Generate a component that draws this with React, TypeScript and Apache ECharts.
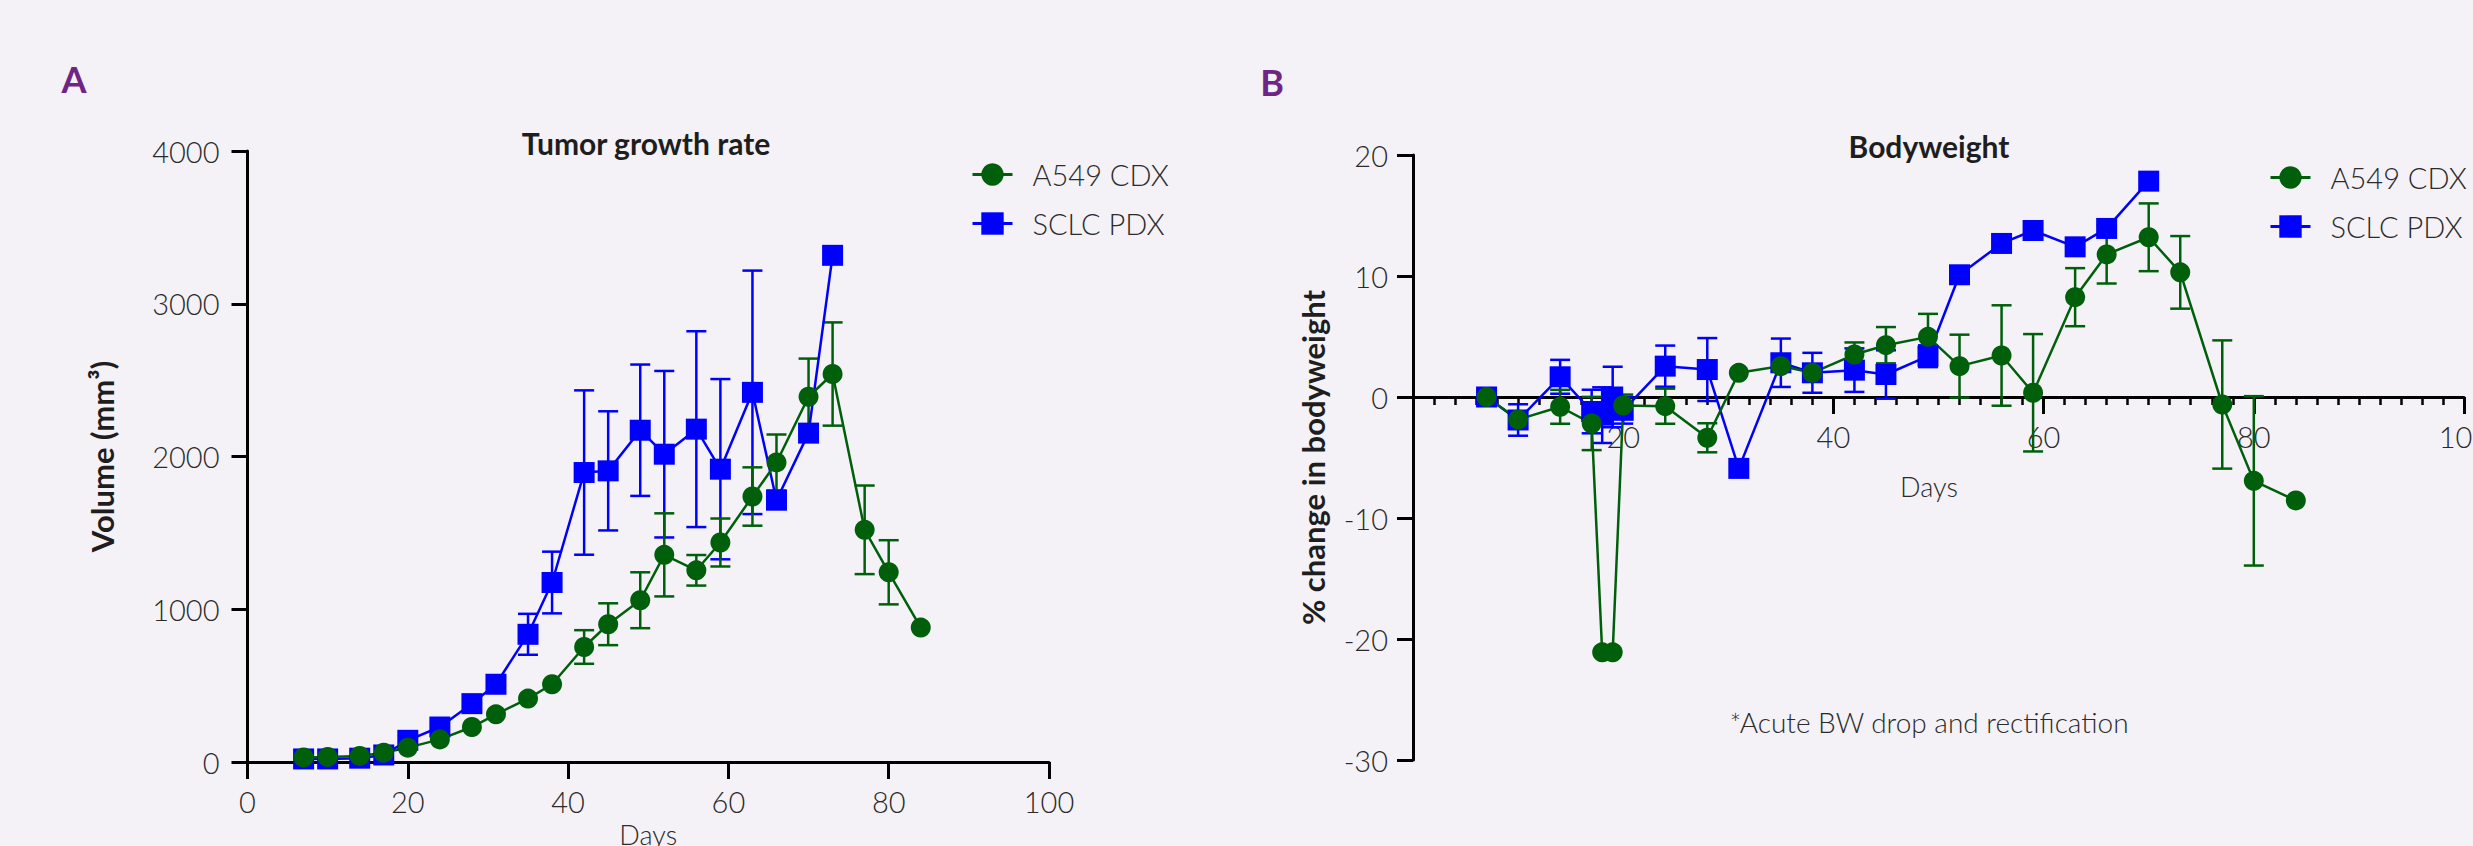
import React, { useEffect, useRef } from "react";
import * as echarts from "echarts";

// ---------- Data ----------
const seriesNames = ["A549 CDX", "SCLC PDX"];

// Panel A: tumour volume (mm³)
const tumorDaysA549 = [7, 10, 14, 17, 20, 24, 28, 31, 35, 38, 42, 45, 49, 52, 56, 59, 63, 66, 70, 73, 77, 80, 84];
const tumorA549 = [30, 33, 40, 61, 94, 148, 229, 312, 415, 509, 753, 902, 1059, 1356, 1255, 1437, 1738, 1961, 2391, 2540, 1520, 1242, 880];
const tumorA549Err = [0, 0, 0, 0, 0, 0, 0, 0, 0, 0, 110, 137, 183, 272, 100, 157, 191, 183, 250, 338, 290, 210, 0];

const tumorDaysSCLC = [7, 10, 14, 17, 20, 24, 28, 31, 35, 38, 42, 45, 49, 52, 56, 59, 63, 66, 70, 73];
const tumorSCLC = [20, 20, 25, 46, 142, 229, 382, 509, 836, 1175, 1895, 1906, 2172, 2015, 2179, 1917, 2420, 1714, 2153, 3317];
const tumorSCLCErr = [0, 0, 0, 0, 0, 0, 0, 0, 134, 202, 538, 390, 430, 545, 641, 590, 797, 0, 0, 0];

// Panel B: % change in bodyweight
const bwDaysA549 = [7, 10, 14, 17, 18, 19, 20, 24, 28, 31, 35, 38, 42, 45, 49, 52, 56, 59, 63, 66, 70, 73, 77, 80, 84];
const bwA549 = [0, -1.86, -0.81, -2.19, -21.1, -21.1, -0.7, -0.76, -3.37, 2.0, 2.55, 2.0, 3.51, 4.28, 4.97, 2.55, 3.43, 0.35, 8.25, 11.78, 13.2, 10.3, -0.62, -6.93, -8.55];
const bwA549Err = [0, 0, 1.4, 2.2, 0, 0, 0.9, 1.45, 1.2, 0, 0, 0, 1.0, 1.5, 1.9, 2.6, 4.15, 4.85, 2.4, 2.4, 2.8, 3.0, 5.3, 7.0, 0];

const bwDaysSCLC = [7, 10, 14, 17, 18, 19, 20, 24, 28, 31, 35, 38, 42, 45, 49, 52, 56, 59, 63, 66, 70];
const bwSCLC = [0, -1.9, 1.67, -1.2, -1.5, 0, -1.1, 2.55, 2.27, -5.9, 2.83, 2.0, 2.22, 1.86, 3.37, 10.1, 12.69, 13.76, 12.41, 13.93, 17.84];
const bwSCLCErr = [0, 1.3, 1.4, 1.8, 2.3, 2.5, 1.1, 1.7, 2.6, 0, 2.0, 1.65, 1.8, 2.0, 0.9, 0, 0, 0, 0, 0, 0];

// Axis ranges / ticks
const xMin = 0, xMax = 100, xInterval = 20;
const volMin = 0, volMax = 4000, volInterval = 1000;
const bwMin = -30, bwMax = 20, bwInterval = 10;

// ---------- Styles ----------
const GREEN = "#005f0b";
const BLUE = "#0000ff";
const BG = "#f4f2f7";
const PURPLE = "#6e2585";
const TEXT = "#2b2b2b";
const FONT = "Lato";

const gridA = { left: 247.5, top: 151, width: 801.5, height: 611, outerBoundsMode: "none" };
const gridB = { left: 1413, top: 155, width: 1051, height: 605, outerBoundsMode: "none" };
// x axis of panel B sits on the y = 0 line
const bZeroOffset = -((0 - bwMin) / (bwMax - bwMin)) * gridB.height;

const pairs = (xs: number[], ys: number[]) => xs.map((x, i) => [x, ys[i]]);
const errData = (xs: number[], ys: number[], es: number[]) =>
  xs.map((x, i) => [x, ys[i] - es[i], ys[i] + es[i], es[i]]).filter((d) => d[3] > 0);

const errSeries = (name: string, idx: number, data: number[][], color: string) => ({
  type: "custom",
  name,
  xAxisIndex: idx,
  yAxisIndex: idx,
  z: 1,
  silent: true,
  encode: { x: 0, y: [1, 2] },
  data,
  renderItem: (params: any, api: any) => {
    const x = api.value(0);
    const top = api.coord([x, api.value(2)]);
    const bot = api.coord([x, api.value(1)]);
    const w = 10;
    const st = { stroke: color, lineWidth: 2.5 };
    return {
      type: "group",
      children: [
        { type: "line", shape: { x1: top[0], y1: top[1], x2: bot[0], y2: bot[1] }, style: st },
        { type: "line", shape: { x1: top[0] - w, y1: top[1], x2: top[0] + w, y2: top[1] }, style: st },
        { type: "line", shape: { x1: bot[0] - w, y1: bot[1], x2: bot[0] + w, y2: bot[1] }, style: st },
      ],
    };
  },
});

const lineSeries = (name: string, idx: number, data: number[][], color: string, symbol: string, size: number) => ({
  type: "line",
  name,
  xAxisIndex: idx,
  yAxisIndex: idx,
  z: 3,
  data,
  symbol,
  symbolSize: size,
  showAllSymbol: true,
  itemStyle: { color, opacity: 1 },
  lineStyle: { color, width: 2.5 },
});

const axisText = { color: TEXT, fontFamily: FONT, fontSize: 29, fontWeight: 300 as any };
const nameText = { color: "#1e1e1e", fontFamily: FONT, fontSize: 31, fontWeight: "bold" as any };
const plain = (v: number) => String(v);

export default function App() {
  const ref = useRef<HTMLDivElement>(null);

  useEffect(() => {
    if (!ref.current) return;
    const chart = echarts.init(ref.current, undefined, { renderer: "svg" });

    const legendCommon = {
      orient: "vertical",
      data: seriesNames,
      itemWidth: 40,
      itemHeight: 28,
      itemGap: 20,
      lineStyle: { width: 3 },
      textStyle: { color: TEXT, fontFamily: FONT, fontSize: 29, fontWeight: 300 as any, padding: [0, 0, 0, 15] },
      selectedMode: false,
    };

    chart.setOption({
      animation: false,
      backgroundColor: BG,
      grid: [gridA, gridB],
      legend: [
        { ...legendCommon, left: 966, top: 155 },
        { ...legendCommon, left: 2264, top: 158 },
      ],
      xAxis: [
        {
          type: "value",
          gridIndex: 0,
          min: xMin,
          max: xMax,
          interval: xInterval,
          name: "Days",
          nameLocation: "middle",
          nameGap: 57,
          nameTextStyle: { ...axisText, fontSize: 27 },
          axisLine: { show: true, lineStyle: { color: "#000", width: 3 } },
          axisTick: { show: true, length: 17, lineStyle: { color: "#000", width: 3 } },
          axisLabel: { ...axisText, margin: 25, formatter: plain },
          splitLine: { show: false },
        },
        {
          type: "value",
          gridIndex: 1,
          min: xMin,
          max: xMax,
          interval: xInterval,
          position: "bottom",
          offset: bZeroOffset,
          axisLine: { show: true, onZero: false, lineStyle: { color: "#000", width: 3 } },
          axisTick: { show: true, length: 17, lineStyle: { color: "#000", width: 3 } },
          minorTick: { show: true, splitNumber: 10, length: 8, lineStyle: { color: "#000", width: 2.5 } },
          axisLabel: { ...axisText, margin: 25, showMinLabel: false, formatter: plain },
          splitLine: { show: false },
        },
      ],
      yAxis: [
        {
          type: "value",
          gridIndex: 0,
          min: volMin,
          max: volMax,
          interval: volInterval,
          name: "Volume (mm³)",
          nameLocation: "middle",
          nameGap: 130,
          nameTextStyle: nameText,
          axisLine: { show: true, lineStyle: { color: "#000", width: 3 } },
          axisTick: { show: true, length: 16, lineStyle: { color: "#000", width: 3 } },
          axisLabel: { ...axisText, margin: 28, formatter: plain },
          splitLine: { show: false },
        },
        {
          type: "value",
          gridIndex: 1,
          min: bwMin,
          max: bwMax,
          interval: bwInterval,
          name: "% change in bodyweight",
          nameLocation: "middle",
          nameGap: 85,
          nameTextStyle: nameText,
          axisLine: { show: true, onZero: false, lineStyle: { color: "#000", width: 3 } },
          axisTick: { show: true, length: 16, lineStyle: { color: "#000", width: 3 } },
          axisLabel: { ...axisText, margin: 25, formatter: plain },
          splitLine: { show: false },
        },
      ],
      graphic: [
        { type: "text", x: 74, y: 79, style: { text: "A", fill: PURPLE, font: `bold 36px ${FONT}`, textAlign: "center", textVerticalAlign: "middle" } },
        { type: "text", x: 1272, y: 82, style: { text: "B", fill: PURPLE, font: `bold 36px ${FONT}`, textAlign: "center", textVerticalAlign: "middle" } },
        { type: "text", x: 646, y: 143, style: { text: "Tumor growth rate", fill: "#1e1e1e", font: `bold 30px ${FONT}`, textAlign: "center", textVerticalAlign: "middle" } },
        { type: "text", x: 1929, y: 146, style: { text: "Bodyweight", fill: "#1e1e1e", font: `bold 30px ${FONT}`, textAlign: "center", textVerticalAlign: "middle" } },
        { type: "text", x: 1929, y: 486, style: { text: "Days", fill: TEXT, font: `300 27px ${FONT}`, textAlign: "center", textVerticalAlign: "middle" } },
        { type: "text", x: 1929, y: 722, style: { text: "*Acute BW drop and rectification", fill: TEXT, font: `300 28px ${FONT}`, textAlign: "center", textVerticalAlign: "middle" } },
      ],
      series: [
        errSeries("SCLC PDX err A", 0, errData(tumorDaysSCLC, tumorSCLC, tumorSCLCErr), BLUE),
        errSeries("A549 CDX err A", 0, errData(tumorDaysA549, tumorA549, tumorA549Err), GREEN),
        lineSeries("SCLC PDX", 0, pairs(tumorDaysSCLC, tumorSCLC), BLUE, "rect", 21),
        lineSeries("A549 CDX", 0, pairs(tumorDaysA549, tumorA549), GREEN, "circle", 20),
        errSeries("SCLC PDX err B", 1, errData(bwDaysSCLC, bwSCLC, bwSCLCErr), BLUE),
        errSeries("A549 CDX err B", 1, errData(bwDaysA549, bwA549, bwA549Err), GREEN),
        lineSeries("SCLC PDX", 1, pairs(bwDaysSCLC, bwSCLC), BLUE, "rect", 21),
        lineSeries("A549 CDX", 1, pairs(bwDaysA549, bwA549), GREEN, "circle", 20),
      ],
    });

    return () => chart.dispose();
  }, []);

  return (
    <div
      ref={ref}
      style={{ position: "absolute", left: 0, top: 0, width: 2473, height: 846, background: BG }}
    />
  );
}
